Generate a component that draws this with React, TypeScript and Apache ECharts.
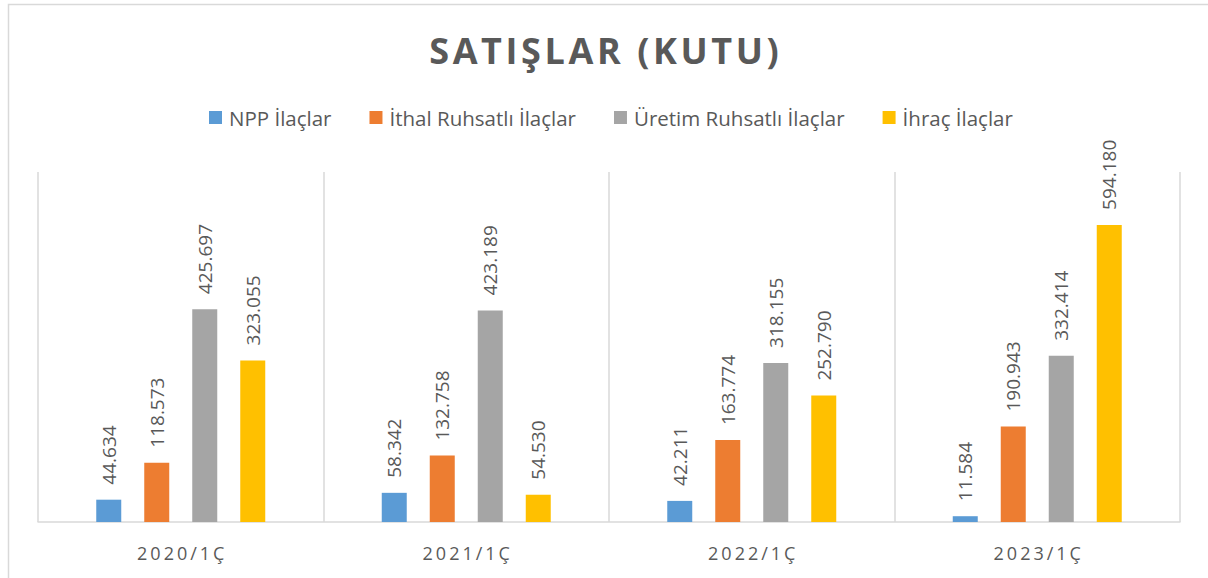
import React, { useEffect, useRef } from "react";
import * as echarts from "echarts";

const categories = ["2020/1Ç", "2021/1Ç", "2022/1Ç", "2023/1Ç"];
const seriesNames = ["NPP İlaçlar", "İthal Ruhsatlı İlaçlar", "Üretim Ruhsatlı İlaçlar", "İhraç İlaçlar"];
const nppValues = [44634, 58342, 42211, 11584];
const ithalValues = [118573, 132758, 163774, 190943];
const uretimValues = [425697, 423189, 318155, 332414];
const ihracValues = [323055, 54530, 252790, 594180];
const colors = ["#5b9bd5", "#ed7d31", "#a5a5a5", "#ffc000"];

const fmt = (v: number) => String(v).replace(/\B(?=(\d{3})+(?!\d))/g, ".");
const spaced = (s: string, sp: string) => Array.from(s).join(sp);

export default function App() {
  const ref = useRef<HTMLDivElement>(null);
  useEffect(() => {
    const chart = echarts.init(ref.current!, null, { renderer: "svg" });
    const font = "'Open Sans', 'Noto Sans', sans-serif";
    const all = [nppValues, ithalValues, uretimValues, ihracValues];
    chart.setOption({
      animation: false,
      backgroundColor: "#ffffff",
      title: {
        text: spaced("SATIŞLAR (KUTU)", "\u200A"),
        left: "center",
        top: 27,
        textStyle: { fontFamily: font, fontSize: 36, fontWeight: "bold", color: "#595959" },
      },
      legend: {
        top: 102,
        left: 204,
        itemWidth: 13,
        itemHeight: 13,
        itemGap: 38,
        icon: "rect",
        textStyle: { fontFamily: font, fontSize: 20.5, color: "#595959", padding: [0, 0, 0, 2] },
        data: seriesNames,
      },
      graphic: [
        {
          type: "rect",
          shape: { x: 8.5, y: 4.5, width: 1230, height: 620 },
          style: { fill: "none", stroke: "#d9d9d9", lineWidth: 1.5 },
          silent: true,
        },
      ],
      grid: { left: 38, right: 28, top: 172, bottom: 56 },
      xAxis: {
        type: "category",
        data: categories,
        axisLine: { lineStyle: { color: "#d9d9d9", width: 1.5 } },
        axisTick: { show: false },
        splitLine: { show: true, interval: 0, lineStyle: { color: "#d9d9d9", width: 1.5 } },
        axisLabel: {
          margin: 22,
          fontFamily: font,
          fontSize: 18,
          color: "#595959",
          formatter: (v: string) => spaced(v, "\u2009"),
        },
      },
      yAxis: {
        type: "value",
        min: 0,
        max: 700000,
        show: false,
        splitLine: { show: false },
      },
      series: seriesNames.map((name, i) => ({
        name,
        type: "bar",
        data: all[i],
        barWidth: 25,
        barGap: "92%",
        itemStyle: { color: colors[i] },
        label: {
          show: true,
          position: "top",
          rotate: 90,
          align: "left",
          verticalAlign: "middle",
          distance: 15,
          fontFamily: font,
          fontSize: 19,
          color: "#595959",
          formatter: (p: any) => fmt(p.value),
        },
      })),
    });
    return () => chart.dispose();
  }, []);
  return (
    <div
      ref={ref}
      style={{ position: "fixed", left: 0, top: 0, width: 1208, height: 578 }}
    />
  );
}
